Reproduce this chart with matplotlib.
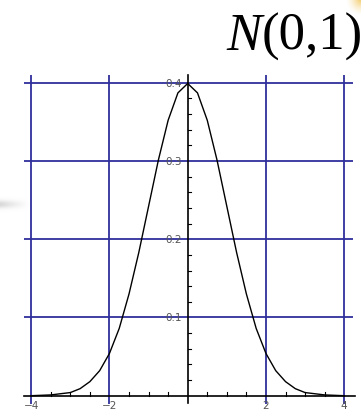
import numpy as np
import matplotlib
matplotlib.use("Agg")
import matplotlib.pyplot as plt
from matplotlib import font_manager

plt.rcParams["font.serif"] = ["Liberation Serif", "Times New Roman", "DejaVu Serif"]

x_pts = [-4.0, -3.5, -3.0, -2.75, -2.5, -2.25, -2.0, -1.75, -1.5, -1.25, -1.0,
         -0.75, -0.5, -0.25, 0.0, 0.25, 0.5, 0.75, 1.0, 1.25, 1.5, 1.75, 2.0,
         2.25, 2.5, 2.75, 3.0, 3.5, 4.0]
y_pts = [0.000, 0.001, 0.004, 0.009, 0.018, 0.032, 0.054, 0.086, 0.130, 0.183, 0.242,
         0.301, 0.352, 0.387, 0.399, 0.387, 0.352, 0.301, 0.242, 0.183, 0.130, 0.086, 0.054,
         0.032, 0.018, 0.009, 0.004, 0.001, 0.000]

x_grid = [-4, -2, 2, 4]
x_labels = ["\u22124", "\u22122", "2", "4"]
y_grid = [0.1, 0.2, 0.3, 0.4]
y_labels = ["0.1", "0.2", "0.3", "0.4"]
x_minor = [-3.5, -3, -2.5, -1.5, -1, -0.5, 0.5, 1, 1.5, 2.5, 3, 3.5]
y_minor = [0.02, 0.04, 0.06, 0.08, 0.12, 0.14, 0.16, 0.18, 0.22, 0.24, 0.26, 0.28,
           0.32, 0.34, 0.36, 0.38]

W, H = 361, 410
fig = plt.figure(figsize=(W / 100, H / 100), dpi=100)
ax = fig.add_axes([0, 0, 1, 1])
ax.set_axis_off()

# pixel -> data mapping
px_x = 39.125          # pixels per x unit
px_y = 782.5           # pixels per y unit
x0_px, y0_px = 187.7, 396.7
XL = (-x0_px / px_x, (W - x0_px) / px_x)
YL = (-(H - y0_px) / px_y, y0_px / px_y)

def dx(px):
    return (px - x0_px) / px_x

def dy(py):
    return (y0_px - py) / px_y

# faint slide background: grey smear on the left, warm spot top right
band = np.zeros((40, 60, 4))
yy, xx = np.mgrid[0:40, 0:60]
a = np.exp(-((yy - 20) / 7.0) ** 2) * np.clip(1 - xx / 60.0, 0, 1) ** 1.2
band[..., :3] = 0.72
band[..., 3] = a * 0.55
ax.imshow(band, extent=(dx(0), dx(30), dy(216), dy(194)), aspect="auto", zorder=0,
          interpolation="bilinear")

spot = np.zeros((40, 40, 4))
yy, xx = np.mgrid[0:40, 0:40]
r = np.hypot(xx - 39, yy - 0) / 30.0
spot[..., 0] = 0.95
spot[..., 1] = 0.78
spot[..., 2] = 0.35
spot[..., 3] = np.clip(1 - r, 0, 1) ** 1.5 * 0.9
ax.imshow(spot, extent=(dx(341), dx(361), dy(22), dy(0)), aspect="auto", zorder=0,
          interpolation="bilinear")

grid_c = "#2f2f9c"
for gx in x_grid:
    ax.plot([gx, gx], [dy(405), dy(76)], color=grid_c, lw=1.3, zorder=1,
            solid_capstyle="butt")
for gy in y_grid:
    ax.plot([dx(24), dx(353)], [gy, gy], color=grid_c, lw=1.3, zorder=1,
            solid_capstyle="butt")

# axes through the origin
ax.plot([dx(24), dx(355)], [0, 0], color="black", lw=1.2, zorder=2)
ax.plot([0, 0], [dy(404), dy(76)], color="black", lw=1.2, zorder=2)
for mx in x_minor:
    ax.plot([mx, mx], [0, 3.5 / px_y], color="black", lw=0.8, zorder=2)
for my in y_minor:
    ax.plot([0, 3.5 / px_x], [my, my], color="black", lw=0.8, zorder=2)

for gx, lab in zip(x_grid, x_labels):
    ax.text(gx, dy(401), lab, ha="center", va="top", fontsize=7.5, color="#555555")
for gy, lab in zip(y_grid, y_labels):
    ax.text(dx(182), gy, lab, ha="right", va="center", fontsize=7.5, color="#555555")

ax.plot(x_pts, y_pts, color="black", lw=1.0, zorder=3)

ax.set_xlim(*XL)
ax.set_ylim(*YL)

# title: italic N followed by upright (0,1)
fp_it = font_manager.FontProperties(family="serif", style="italic", size=38)
fp_rm = font_manager.FontProperties(family="serif", size=38)
fig.canvas.draw()
rend = fig.canvas.get_renderer()
t1 = fig.text(226 / W, 1 - 50 / H, "N", fontproperties=fp_it,
              ha="left", va="baseline", color="black")
bb = t1.get_window_extent(renderer=rend)
fig.text(bb.x1 / W, 1 - 50 / H, "(0,1)", fontproperties=fp_rm,
         ha="left", va="baseline", color="black")

fig.savefig("out.png", dpi=100, facecolor="white")
